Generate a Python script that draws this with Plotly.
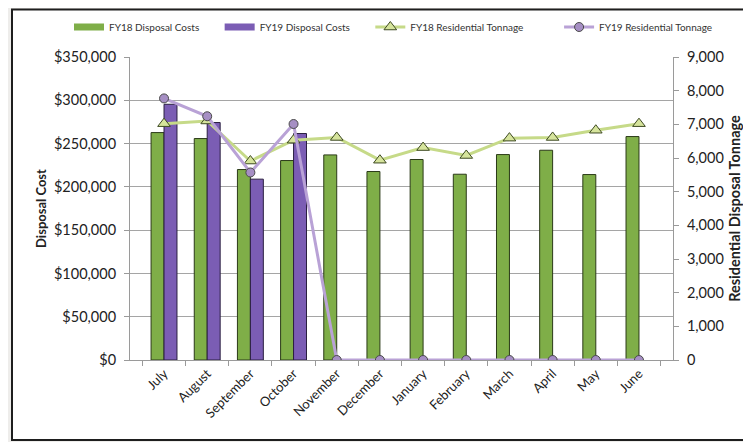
import plotly.graph_objects as go

months = ["July", "August", "September", "October", "November", "December",
          "January", "February", "March", "April", "May", "June"]
fy18_costs = [262700, 255800, 220000, 230400, 236900, 217700,
              231600, 214600, 237300, 242300, 214200, 258100]
fy19_costs = [295400, 274300, 208900, 261600, None, None,
              None, None, None, None, None, None]
fy18_tons = [7020, 7100, 5910, 6530, 6610, 5935, 6310, 6075, 6590, 6610, 6825, 7020]
fy19_tons = [7770, 7240, 5570, 7010, 0, 0, 0, 0, 0, 0, 0, 0]

cost_ticks = [0, 50000, 100000, 150000, 200000, 250000, 300000, 350000]
cost_tick_labels = ["$0", "$50,000", "$100,000", "$150,000", "$200,000",
                    "$250,000", "$300,000", "$350,000"]
ton_ticks = [0, 1000, 2000, 3000, 4000, 5000, 6000, 7000, 8000, 9000]
ton_tick_labels = ["0", "1,000", "2,000", "3,000", "4,000", "5,000",
                   "6,000", "7,000", "8,000", "9,000"]

GREEN, GREEN_EDGE = "#7fae48", "#2b3a18"
PURPLE, PURPLE_EDGE = "#7b5db4", "#2a1f40"
PAD = "\u00a0" * 6

FONT = "Lato, Open Sans, sans-serif"
fig = go.Figure()
fig.add_trace(go.Bar(x=months, y=fy18_costs, name="FY18 Disposal Costs", showlegend=False,
                     marker=dict(color=GREEN, line=dict(color=GREEN_EDGE, width=1))))
fig.add_trace(go.Bar(x=months, y=fy19_costs, name="FY19 Disposal Costs", showlegend=False,
                     marker=dict(color=PURPLE, line=dict(color=PURPLE_EDGE, width=1))))
# legend swatches for the bar series
fig.add_trace(go.Scatter(x=[None], y=[None], mode="lines", name="FY18 Disposal Costs" + PAD,
                         line=dict(color=GREEN, width=7)))
fig.add_trace(go.Scatter(x=[None], y=[None], mode="lines", name="FY19 Disposal Costs" + PAD,
                         line=dict(color=PURPLE, width=7)))
fig.add_trace(go.Scatter(x=months, y=fy18_tons, name="FY18 Residential Tonnage" + PAD + PAD,
                         yaxis="y2", mode="lines+markers",
                         line=dict(color="#c6da88", width=3),
                         marker=dict(symbol="triangle-up", size=11, color="#d6e49c",
                                     line=dict(color="#3e4a22", width=1))))
fig.add_trace(go.Scatter(x=months, y=fy19_tons, name="FY19 Residential Tonnage", yaxis="y2",
                         mode="lines+markers",
                         line=dict(color="#b9a2d6", width=3),
                         marker=dict(symbol="circle", size=9, color="#a68fc4",
                                     line=dict(color="#4a4a4a", width=1))))

# the page offsets the figure by 8px in x and y; work in screen coordinates
OFFX, OFFY = 8, 8
W, H = 751, 442
L, T = 130 - OFFX, 57 - OFFY
R = W - (673 - OFFX)
B = H - (360 - OFFY)
pw, ph = W - L - R, H - T - B
def px(xs): return (xs - OFFX - L) / pw
def py(ys): return (H - B - (ys - OFFY)) / ph

fig.update_layout(
    width=W, height=H,
    margin=dict(l=L, r=R, t=T, b=B, autoexpand=False),
    paper_bgcolor="#eeedeb", plot_bgcolor="rgba(0,0,0,0)",
    font=dict(family=FONT, color="#222222"),
    barmode="group", bargap=0.4, bargroupgap=0,
    showlegend=True,
    legend=dict(orientation="h", x=px(69), xanchor="left", y=py(27), yanchor="middle",
                font=dict(size=10, color="#333333"), bgcolor="rgba(0,0,0,0)",
                itemwidth=30),
    xaxis=dict(tickangle=-45, tickfont=dict(size=13), showgrid=False,
               showline=True, linecolor="#9a9a9a", ticks="outside", ticklen=5,
               tickcolor="#9a9a9a", tickson="boundaries"),
    yaxis=dict(range=[0, 350000], tickvals=cost_ticks, ticktext=cost_tick_labels,
               tickfont=dict(size=14.5), showgrid=True, gridcolor="#a5a5a5", gridwidth=1,
               showline=True, linecolor="#9a9a9a", ticks="outside", ticklen=5,
               tickcolor="#9a9a9a", zeroline=False, ticklabelstandoff=5,
               title=dict(text="<b>Disposal Cost</b>", font=dict(size=13), standoff=4)),
    yaxis2=dict(range=[0, 9000], tickvals=ton_ticks, ticktext=ton_tick_labels,
                overlaying="y", side="right", showgrid=False,
                tickfont=dict(size=14.5), showline=True, linecolor="#9a9a9a",
                ticks="outside", ticklen=5, tickcolor="#9a9a9a", zeroline=False,
                ticklabelstandoff=5,
                title=dict(text="<b>Residential Disposal Tonnage</b>", font=dict(size=14.5),
                           standoff=7)),
    shapes=[dict(type="rect", xref="paper", yref="paper", layer="below",
                 x0=px(12), x1=px(770), y0=py(440), y1=py(9.5),
                 fillcolor="white", line=dict(color="#1e1e1e", width=2))],
)

fig.write_html("out.html")
